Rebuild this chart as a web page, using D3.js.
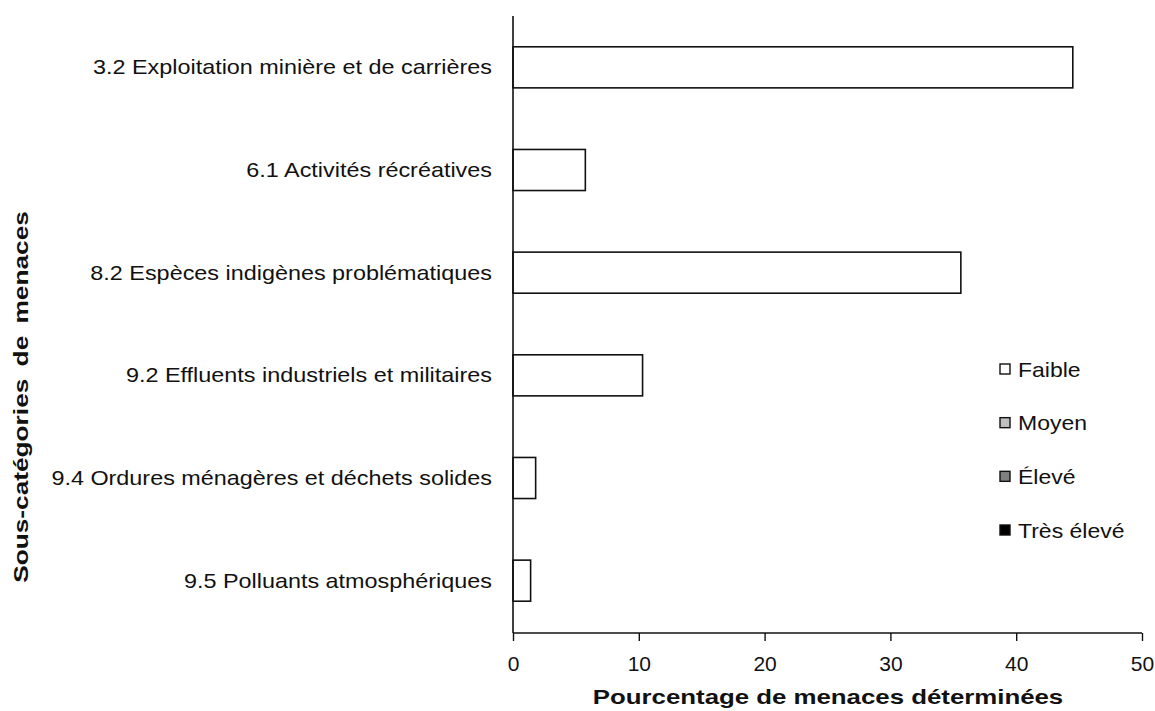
<!DOCTYPE html>
<html><head><meta charset="utf-8">
<script src="https://cdn.jsdelivr.net/npm/d3@7"></script>
<style>body{margin:0;background:#fff;} text{font-family:"Liberation Sans",Arial,sans-serif;}</style>
</head><body>
<svg id="chart" width="1155" height="711"></svg>
<script>
const categories = [
  "3.2 Exploitation minière et de carrières",
  "6.1 Activités récréatives",
  "8.2 Espèces indigènes problématiques",
  "9.2 Effluents industriels et militaires",
  "9.4 Ordures ménagères et déchets solides",
  "9.5 Polluants atmosphériques"
];
const faible = [44.5, 5.75, 35.6, 10.3, 1.8, 1.4];
const moyen = [0, 0, 0, 0, 0, 0];
const eleve = [0, 0, 0, 0, 0, 0];
const tresEleve = [0, 0, 0, 0, 0, 0];
const seriesNames = ["Faible", "Moyen", "Élevé", "Très élevé"];
const seriesColors = ["#ffffff", "#c0c0c0", "#808080", "#000000"];
const xTicks = [0, 10, 20, 30, 40, 50];
const xTitle = "Pourcentage de menaces déterminées";
const yTitle = "Sous-catégories de menaces";

const svg = d3.select("#chart");
const x = d3.scaleLinear().domain([0, 50]).range([513, 1142]);
const y = d3.scaleBand().domain(categories).range([16, 632]).paddingInner(0.6).paddingOuter(0.3);

const rows = categories.map((c, i) => ({cat: c, Faible: faible[i], Moyen: moyen[i], "Élevé": eleve[i], "Très élevé": tresEleve[i]}));
const stack = d3.stack().keys(seriesNames)(rows);

stack.forEach((layer, li) => {
  svg.append("g").selectAll("rect").data(layer.filter(d => d[1] - d[0] > 0)).join("rect")
    .attr("x", d => x(d[0]))
    .attr("y", d => y(d.data.cat))
    .attr("width", d => x(d[1]) - x(d[0]))
    .attr("height", y.bandwidth())
    .attr("fill", seriesColors[li])
    .attr("stroke", "#111")
    .attr("stroke-width", 1.6);
});

// x axis
const xAxis = svg.append("g").attr("transform", "translate(0,633)")
  .call(d3.axisBottom(x).tickValues(xTicks).tickSize(8).tickPadding(0).tickFormat(d3.format("d")));
xAxis.select(".domain").attr("d", `M${x(0)},0H${x(50)}`).attr("stroke", "#111").attr("stroke-width", 1.6);
xAxis.selectAll(".tick line").attr("stroke", "#111").attr("stroke-width", 1.4);
xAxis.selectAll(".tick text").attr("dy", null).attr("y", 38).attr("font-size", 21).attr("fill", "#111")
  .attr("font-family", "Liberation Sans, Arial, sans-serif");

// y axis
const yAxis = svg.append("g").attr("transform", `translate(${x(0)},0)`)
  .call(d3.axisLeft(y).tickSize(0).tickPadding(0));
yAxis.select(".domain").attr("d", "M0,16V633").attr("stroke", "#111").attr("stroke-width", 1.6);
yAxis.selectAll(".tick text").attr("x", null).attr("dy", null).attr("y", null)
  .attr("transform", "translate(-21,7) scale(1.17,1)")
  .attr("font-size", 20).attr("fill", "#111").attr("font-family", "Liberation Sans, Arial, sans-serif");

// titles
svg.append("text").attr("transform", "translate(828,704) scale(1.23,1)").attr("text-anchor", "middle")
  .attr("font-size", 21).attr("font-weight", "bold").attr("fill", "#111").text(xTitle);
svg.append("text").attr("transform", "translate(28,397) rotate(-90) scale(1.25,1)").attr("text-anchor", "middle")
  .attr("font-size", 21).attr("font-weight", "bold").attr("word-spacing", 4).attr("fill", "#111").text(yTitle);

// legend
const legY = d3.scalePoint().domain(seriesNames).range([369, 530]);
const leg = svg.append("g").selectAll("g").data(seriesNames).join("g")
  .attr("transform", d => `translate(1000,${legY(d)})`);
leg.append("rect").attr("x", 0).attr("y", -5).attr("width", 10).attr("height", 10)
  .attr("fill", (d, i) => seriesColors[i]).attr("stroke", "#111").attr("stroke-width", 1.4);
leg.append("text").attr("transform", "translate(18,7.5) scale(1.15,1)").attr("font-size", 20).attr("fill", "#111").text(d => d);
</script>
</body></html>
